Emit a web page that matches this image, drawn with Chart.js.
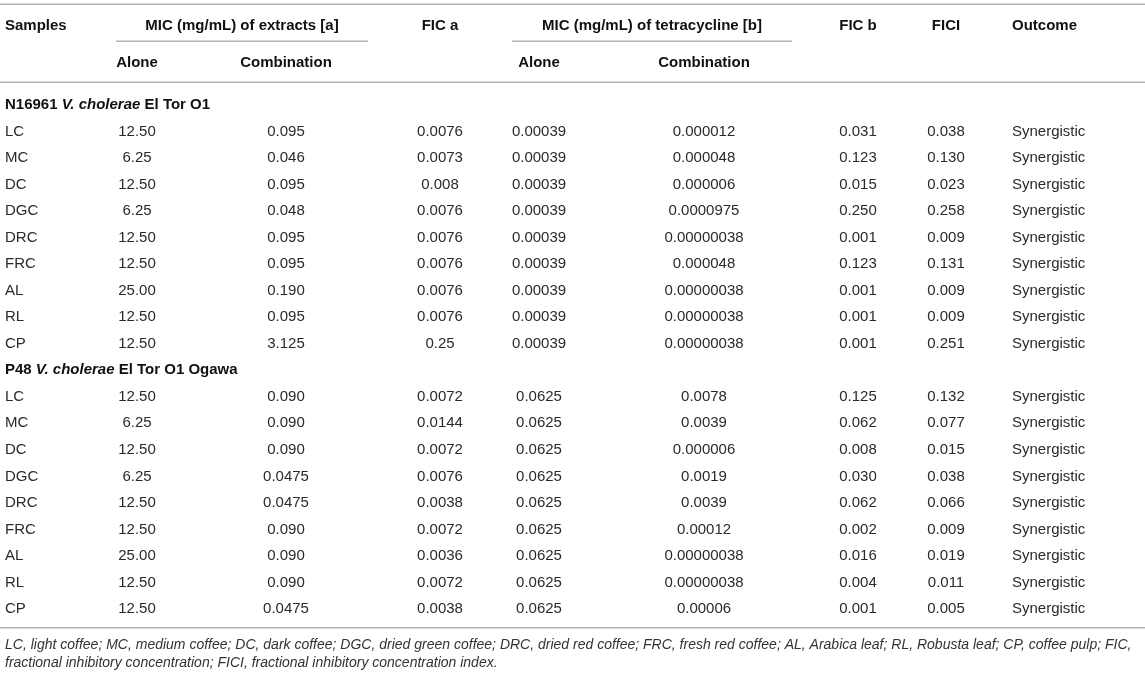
<!DOCTYPE html>
<html lang="en">
<head>
    <meta charset="UTF-8">
    <title>MIC / FIC table</title>
    <script src="https://cdn.jsdelivr.net/npm/chart.js@4.4.1/dist/chart.umd.min.js"></script>
    <style>
        html, body {
            margin: 0;
            padding: 0;
            background-color: #fff;
        }
        .wrap {
            width: 1145px;
            height: 677px;
            position: relative;
        }
    </style>
</head>
<body>
    <div class="wrap">
        <canvas id="tableChart"></canvas>
    </div>

    <script>
        // Table data (one entry per coffee sample, per strain)
        const samples = ['LC', 'MC', 'DC', 'DGC', 'DRC', 'FRC', 'AL', 'RL', 'CP'];
        const strains = ['N16961', 'P48'];
        const strainNames = [
            ['N16961 ', 'V. cholerae', ' El Tor O1'],
            ['P48 ', 'V. cholerae', ' El Tor O1 Ogawa']
        ];

        // N16961 V. cholerae El Tor O1
        const extractAlone1 = ['12.50', '6.25', '12.50', '6.25', '12.50', '12.50', '25.00', '12.50', '12.50'];
        const extractComb1 = ['0.095', '0.046', '0.095', '0.048', '0.095', '0.095', '0.190', '0.095', '3.125'];
        const ficA1 = ['0.0076', '0.0073', '0.008', '0.0076', '0.0076', '0.0076', '0.0076', '0.0076', '0.25'];
        const tetAlone1 = ['0.00039', '0.00039', '0.00039', '0.00039', '0.00039', '0.00039', '0.00039', '0.00039', '0.00039'];
        const tetComb1 = ['0.000012', '0.000048', '0.000006', '0.0000975', '0.00000038', '0.000048', '0.00000038', '0.00000038', '0.00000038'];
        const ficB1 = ['0.031', '0.123', '0.015', '0.250', '0.001', '0.123', '0.001', '0.001', '0.001'];
        const fici1 = ['0.038', '0.130', '0.023', '0.258', '0.009', '0.131', '0.009', '0.009', '0.251'];
        const outcome1 = ['Synergistic', 'Synergistic', 'Synergistic', 'Synergistic', 'Synergistic', 'Synergistic', 'Synergistic', 'Synergistic', 'Synergistic'];

        // P48 V. cholerae El Tor O1 Ogawa
        const extractAlone2 = ['12.50', '6.25', '12.50', '6.25', '12.50', '12.50', '25.00', '12.50', '12.50'];
        const extractComb2 = ['0.090', '0.090', '0.090', '0.0475', '0.0475', '0.090', '0.090', '0.090', '0.0475'];
        const ficA2 = ['0.0072', '0.0144', '0.0072', '0.0076', '0.0038', '0.0072', '0.0036', '0.0072', '0.0038'];
        const tetAlone2 = ['0.0625', '0.0625', '0.0625', '0.0625', '0.0625', '0.0625', '0.0625', '0.0625', '0.0625'];
        const tetComb2 = ['0.0078', '0.0039', '0.000006', '0.0019', '0.0039', '0.00012', '0.00000038', '0.00000038', '0.00006'];
        const ficB2 = ['0.125', '0.062', '0.008', '0.030', '0.062', '0.002', '0.016', '0.004', '0.001'];
        const fici2 = ['0.132', '0.077', '0.015', '0.038', '0.066', '0.009', '0.019', '0.011', '0.005'];
        const outcome2 = ['Synergistic', 'Synergistic', 'Synergistic', 'Synergistic', 'Synergistic', 'Synergistic', 'Synergistic', 'Synergistic', 'Synergistic'];

        const headerTop = ['Samples', 'MIC (mg/mL) of extracts [a]', 'FIC a', 'MIC (mg/mL) of tetracycline [b]', 'FIC b', 'FICI', 'Outcome'];
        const headerSub = ['Alone', 'Combination', 'Alone', 'Combination'];
        const footnote = [
            'LC, light coffee; MC, medium coffee; DC, dark coffee; DGC, dried green coffee; DRC, dried red coffee; FRC, fresh red coffee; AL, Arabica leaf; RL, Robusta leaf; CP, coffee pulp; FIC,',
            'fractional inhibitory concentration; FICI, fractional inhibitory concentration index.'
        ];

        // Column layout (x on the linear scale, which spans the canvas width)
        const columns = [
            { x: 5, align: 'left' },
            { x: 137, align: 'center' },
            { x: 286, align: 'center' },
            { x: 440, align: 'center' },
            { x: 539, align: 'center' },
            { x: 704, align: 'center' },
            { x: 858, align: 'center' },
            { x: 946, align: 'center' },
            { x: 1012, align: 'left' }
        ];

        const FONT = '"Liberation Sans", Arial, Helvetica, sans-serif';
        const RULE = '#b4b4b4';
        const TEXT_DY = 2; // glyphs sit a touch low in the source

        // Row keys for the category axis: a group row then the 9 samples, twice
        const rowKeys = [];
        strains.forEach(s => {
            rowKeys.push(s + '-group');
            samples.forEach(name => rowKeys.push(s + '-' + name));
        });

        const strainCols = [
            [samples, extractAlone1, extractComb1, ficA1, tetAlone1, tetComb1, ficB1, fici1, outcome1],
            [samples, extractAlone2, extractComb2, ficA2, tetAlone2, tetComb2, ficB2, fici2, outcome2]
        ];

        // one scatter dataset per column, the text rides on each point
        const datasets = columns.map((col, c) => {
            const data = [];
            const text = [];
            strains.forEach((s, si) => {
                strainCols[si][c].forEach((v, i) => {
                    data.push({ x: col.x, y: s + '-' + samples[i] });
                    text.push(v);
                });
            });
            return { label: 'col' + c, data: data, cellText: text, align: col.align, pointRadius: 0 };
        });
        datasets.push({
            label: 'groups',
            data: strains.map(s => ({ x: columns[0].x, y: s + '-group' })),
            cellText: strainNames,
            align: 'left',
            pointRadius: 0
        });

        function hline(ctx, x1, x2, y) {
            ctx.beginPath();
            ctx.moveTo(x1, y);
            ctx.lineTo(x2, y);
            ctx.stroke();
        }

        const tablePlugin = {
            id: 'tableText',
            afterDatasetsDraw(chart) {
                const ctx = chart.ctx;
                const area = chart.chartArea;
                const x = chart.scales.x;
                ctx.save();
                ctx.textBaseline = 'middle';

                // rules
                ctx.strokeStyle = RULE;
                ctx.lineWidth = 1.6;
                hline(ctx, 0, chart.width, area.top - 85.5);
                hline(ctx, x.getPixelForValue(116), x.getPixelForValue(368), area.top - 48.5);
                hline(ctx, x.getPixelForValue(512), x.getPixelForValue(792), area.top - 48.5);
                hline(ctx, 0, chart.width, area.top - 7.5);
                hline(ctx, 0, chart.width, area.bottom + 7.5);

                // header rows
                ctx.fillStyle = '#111';
                ctx.font = 'bold 15px ' + FONT;
                const topY = area.top - 66 + TEXT_DY;
                const topX = [[columns[0].x, 'left'], [242, 'center'], [columns[3].x, 'center'], [652, 'center'],
                    [columns[6].x, 'center'], [columns[7].x, 'center'], [columns[8].x, 'left']];
                headerTop.forEach((t, i) => {
                    ctx.textAlign = topX[i][1];
                    ctx.fillText(t, x.getPixelForValue(topX[i][0]), topY);
                });
                const subY = area.top - 29 + TEXT_DY;
                [1, 2, 4, 5].forEach((c, i) => {
                    ctx.textAlign = 'center';
                    ctx.fillText(headerSub[i], x.getPixelForValue(columns[c].x), subY);
                });

                // body cells
                chart.data.datasets.forEach((ds, di) => {
                    const meta = chart.getDatasetMeta(di);
                    meta.data.forEach((pt, i) => {
                        const t = ds.cellText[i];
                        const y = pt.y + TEXT_DY;
                        ctx.textAlign = 'left';
                        if (Array.isArray(t)) {
                            // strain heading: bold with italic species name
                            let px = pt.x;
                            t.forEach((part, k) => {
                                ctx.font = (k === 1 ? 'italic bold 15px ' : 'bold 15px ') + FONT;
                                ctx.fillStyle = '#111';
                                ctx.fillText(part, px, y);
                                px += ctx.measureText(part).width;
                            });
                        } else {
                            ctx.font = '15px ' + FONT;
                            ctx.fillStyle = '#2a2a2a';
                            ctx.textAlign = ds.align;
                            ctx.fillText(t, pt.x, y);
                        }
                    });
                });

                // footnote
                ctx.font = 'italic 14px ' + FONT;
                ctx.fillStyle = '#333';
                ctx.textAlign = 'left';
                footnote.forEach((line, i) => {
                    ctx.fillText(line, x.getPixelForValue(columns[0].x), area.bottom + 23 + TEXT_DY + i * 18);
                });
                ctx.restore();
            }
        };

        const ctx = document.getElementById('tableChart').getContext('2d');
        const tableChart = new Chart(ctx, {
            type: 'scatter',
            data: { datasets: datasets },
            options: {
                responsive: true,
                maintainAspectRatio: false,
                animation: false,
                events: [],
                layout: { padding: { top: 89.7, bottom: 56.7, left: 0, right: 0 } },
                plugins: { legend: { display: false }, tooltip: { enabled: false } },
                scales: {
                    x: { type: 'linear', min: 0, max: 1145, display: false },
                    y: { type: 'category', labels: rowKeys, offset: true, display: false }
                }
            },
            plugins: [tablePlugin]
        });
    </script>
</body>
</html>
